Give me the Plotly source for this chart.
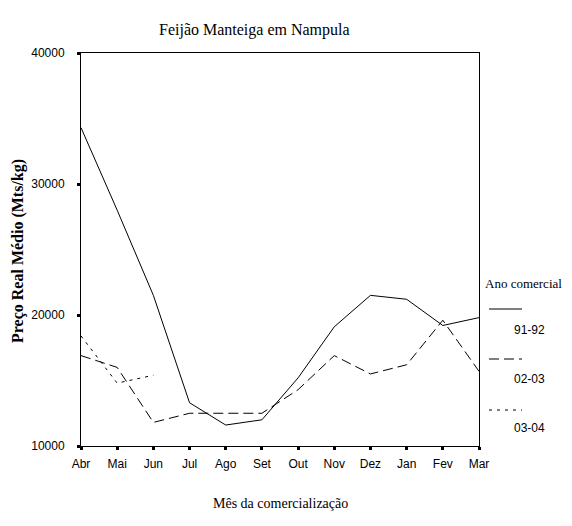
import plotly.graph_objects as go

meses = ['Abr', 'Mai', 'Jun', 'Jul', 'Ago', 'Set', 'Out', 'Nov', 'Dez', 'Jan', 'Fev', 'Mar']

# Preço real médio (Mts/kg) por ano comercial
preco_91_92 = [34300, 28000, 21500, 13300, 11600, 12000, 15200, 19100, 21500, 21200, 19200, 19800]
preco_02_03 = [16900, 16000, 11800, 12500, 12500, 12500, 14300, 16900, 15500, 16200, 19600, 15700]
preco_03_04 = [18400, 14800, 15400]

y_ticks = [10000, 20000, 30000, 40000]

series = [
    ('91-92', preco_91_92, 'solid'),
    ('02-03', preco_02_03, '10px,5px'),
    ('03-04', preco_03_04, '3px,5px'),
]

# the page body adds an 8px margin, so the figure is drawn 8px smaller
OFF = 8
W, H = 572 - OFF, 526 - OFF
L, R, T, B = 81 - OFF, 93, 53 - OFF, 80

fig = go.Figure()
for nome, vals, dash in series:
    fig.add_trace(go.Scatter(
        x=meses[:len(vals)], y=vals, mode='lines', name=nome,
        line=dict(color='black', width=1, dash=dash),
        showlegend=False,
    ))


# positions given in screenshot pixels -> paper coordinates
def px_x(px):
    return (px - OFF - L) / (W - L - R)


def px_y(py):
    return (H - B - (py - OFF)) / (H - T - B)


serif = 'Liberation Serif'
sans = 'Liberation Sans'

# legend drawn by hand: key above label, like the original
fig.add_annotation(x=px_x(483), y=px_y(283), xref='paper', yref='paper',
                   text='Ano comercial', showarrow=False, xanchor='left',
                   font=dict(family=serif, size=13, color='black'))
keys = [(309, 339, 'solid'), (359, 388, '10px,5px'), (410, 437, '3px,5px')]
for (ky, ly, dash), (nome, _, _) in zip(keys, series):
    fig.add_shape(type='line', xref='paper', yref='paper',
                  x0=px_x(489), x1=px_x(522), y0=px_y(ky), y1=px_y(ky),
                  line=dict(color='black', width=1, dash=dash))
    fig.add_annotation(x=px_x(529), y=px_y(ly), xref='paper', yref='paper',
                       text=nome, showarrow=False, xanchor='center',
                       font=dict(family=sans, size=12, color='black'))

# titles
fig.add_annotation(x=px_x(254), y=px_y(19), xref='paper', yref='paper',
                   text='Feijão Manteiga em Nampula', showarrow=False,
                   font=dict(family=serif, size=16, color='black'))
fig.add_annotation(x=px_x(280), y=px_y(513), xref='paper', yref='paper',
                   text='Mês da comercialização', showarrow=False,
                   font=dict(family=serif, size=14, color='black'))
fig.add_annotation(x=px_x(7), y=px_y(251), xref='paper', yref='paper',
                   text='<b>Preço Real Médio (Mts/kg)</b>', showarrow=False,
                   textangle=-90,
                   font=dict(family=serif, size=16, color='black'))

axis_common = dict(
    showline=True, linecolor='black', linewidth=1, mirror=True,
    ticks='outside', ticklen=3, tickwidth=3, tickcolor='black',
    showgrid=False, zeroline=False, automargin=False,
    tickfont=dict(family=sans, size=12, color='black'),
)
fig.update_xaxes(type='category', range=[0, 11], ticklabelstandoff=4, **axis_common)
fig.update_yaxes(range=[10000, 40000], tickvals=y_ticks,
                 ticktext=[str(v) for v in y_ticks],
                 ticklabelstandoff=10, **axis_common)

fig.update_layout(
    width=W, height=H,
    margin=dict(l=L, r=R, t=T, b=B),
    plot_bgcolor='white', paper_bgcolor='white',
)

fig.write_html('out.html')
